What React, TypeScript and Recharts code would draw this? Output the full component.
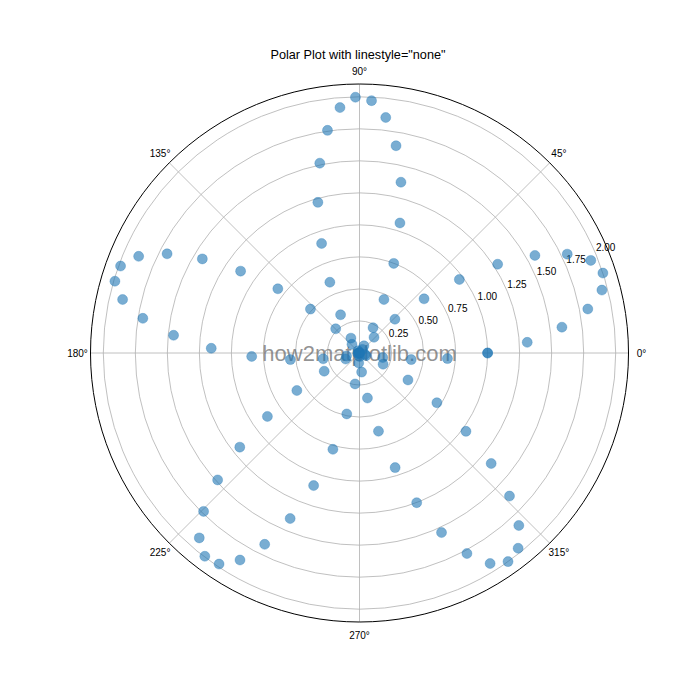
import React from 'react'
import { RadarChart, Radar, PolarGrid, PolarAngleAxis, PolarRadiusAxis } from 'recharts'

// angle of each point in degrees (0..360, 100 samples)
const thetaDeg = [
  0, 3.64, 7.27, 10.91, 14.55, 18.18, 21.82, 25.45, 29.09, 32.73,
  36.36, 40.0, 43.64, 47.27, 50.91, 54.55, 58.18, 61.82, 65.45, 69.09,
  72.73, 76.36, 80.0, 83.64, 87.27, 90.91, 94.55, 98.18, 101.82, 105.45,
  109.09, 112.73, 116.36, 120.0, 123.64, 127.27, 130.91, 134.55, 138.18, 141.82,
  145.45, 149.09, 152.73, 156.36, 160.0, 163.64, 167.27, 170.91, 174.55, 178.18,
  181.82, 185.45, 189.09, 192.73, 196.36, 200.0, 203.64, 207.27, 210.91, 214.55,
  218.18, 221.82, 225.45, 229.09, 232.73, 236.36, 240.0, 243.64, 247.27, 250.91,
  254.55, 258.18, 261.82, 265.45, 269.09, 272.73, 276.36, 280.0, 283.64, 287.27,
  290.91, 294.55, 298.18, 301.82, 305.45, 309.09, 312.73, 316.36, 320.0, 323.64,
  327.27, 330.91, 334.55, 338.18, 341.82, 345.45, 349.09, 352.73, 356.36, 360.0,
]

// radius of each point
const rValues = [
  1.0, 1.312, 1.593, 1.815, 1.955, 2.0, 1.945, 1.796, 1.567, 1.282,
  0.968, 0.658, 0.382, 0.167, 0.036, 0.001, 0.066, 0.224, 0.459, 0.749,
  1.063, 1.372, 1.643, 1.85, 1.972, 1.997, 1.922, 1.756, 1.514, 1.22,
  0.905, 0.599, 0.333, 0.134, 0.021, 0.006, 0.09, 0.265, 0.514, 0.811,
  1.127, 1.43, 1.69, 1.882, 1.985, 1.99, 1.896, 1.713, 1.458, 1.158,
  0.842, 0.542, 0.287, 0.104, 0.01, 0.015, 0.118, 0.31, 0.57, 0.873,
  1.189, 1.486, 1.735, 1.91, 1.994, 1.979, 1.866, 1.667, 1.401, 1.095,
  0.78, 0.486, 0.244, 0.078, 0.003, 0.028, 0.15, 0.357, 0.628, 0.937,
  1.251, 1.541, 1.776, 1.934, 1.999, 1.964, 1.833, 1.618, 1.342, 1.032,
  0.718, 0.433, 0.204, 0.055, 0.0, 0.045, 0.185, 0.407, 0.688, 1.0,
]

const angleTicks = [0, 45, 90, 135, 180, 225, 270, 315]
const radiusTicks = [0.25, 0.5, 0.75, 1.0, 1.25, 1.5, 1.75, 2.0]
const radiusMax = 2.1

const data = thetaDeg.map((theta, i) => ({ theta, r: rValues[i] }))

const FONT = '"Liberation Sans", Arial, sans-serif'
const CX = 359.5
const CY = 353
const OUTER = 269

const AngleTick = (props: any) => {
  const { x, y, payload } = props
  if (payload.value >= 360) return null
  const dx = x - CX
  const dy = y - CY
  const d = Math.sqrt(dx * dx + dy * dy) || 1
  const k = 282 / d
  return (
    <text
      x={CX + dx * k}
      y={CY + dy * k}
      textAnchor="middle"
      dominantBaseline="central"
      fontSize={10}
      fontFamily={FONT}
      fill="#000"
    >
      {payload.value}°
    </text>
  )
}

const RadiusTick = (props: any) => {
  const { x, y, payload } = props
  return (
    <text
      x={x + 9.5}
      y={y - 7.5}
      textAnchor="middle"
      dominantBaseline="central"
      fontSize={10}
      fontFamily={FONT}
      fill="#000"
    >
      {Number(payload.value).toFixed(2)}
    </text>
  )
}

export default function App() {
  return (
    <div style={{ position: 'absolute', left: 0, top: 0, width: 700, height: 700, background: '#fff' }}>
      <RadarChart
        width={700}
        height={700}
        data={data}
        cx={CX}
        cy={CY}
        outerRadius={OUTER}
        innerRadius={0}
        startAngle={0}
        endAngle={360}
        margin={{ top: 0, right: 0, bottom: 0, left: 0 }}
      >
        <PolarGrid gridType="circle" stroke="#b0b0b0" strokeWidth={0.8} />
        <PolarAngleAxis
          dataKey="theta"
          type="number"
          domain={[0, 360]}
          ticks={angleTicks}
          tick={<AngleTick />}
          tickLine={false}
          axisLine={{ stroke: '#000', strokeWidth: 1 }}
          axisLineType="circle"
        />
        <PolarRadiusAxis
          angle={22.5}
          type="number"
          domain={[0, radiusMax]}
          ticks={radiusTicks}
          tick={<RadiusTick />}
          tickLine={false}
          axisLine={false}
          allowDataOverflow
        />
        <Radar
          dataKey="r"
          stroke="none"
          fill="none"
          fillOpacity={0}
          isAnimationActive={false}
          dot={{ r: 5, fill: '#1f77b4', fillOpacity: 0.6, stroke: '#1f77b4', strokeOpacity: 0.6, strokeWidth: 0.5 }}
        />
        <text
          x={CX}
          y={CY}
          textAnchor="middle"
          dominantBaseline="central"
          fontSize={22}
          fontFamily={FONT}
          fill="#707070"
          fillOpacity={0.75}
        >
          how2matplotlib.com
        </text>
        <text x={358} y={55} textAnchor="middle" dominantBaseline="central" fontSize={12.7} fontFamily={FONT} fill="#000">
          Polar Plot with linestyle="none"
        </text>
      </RadarChart>
    </div>
  )
}
